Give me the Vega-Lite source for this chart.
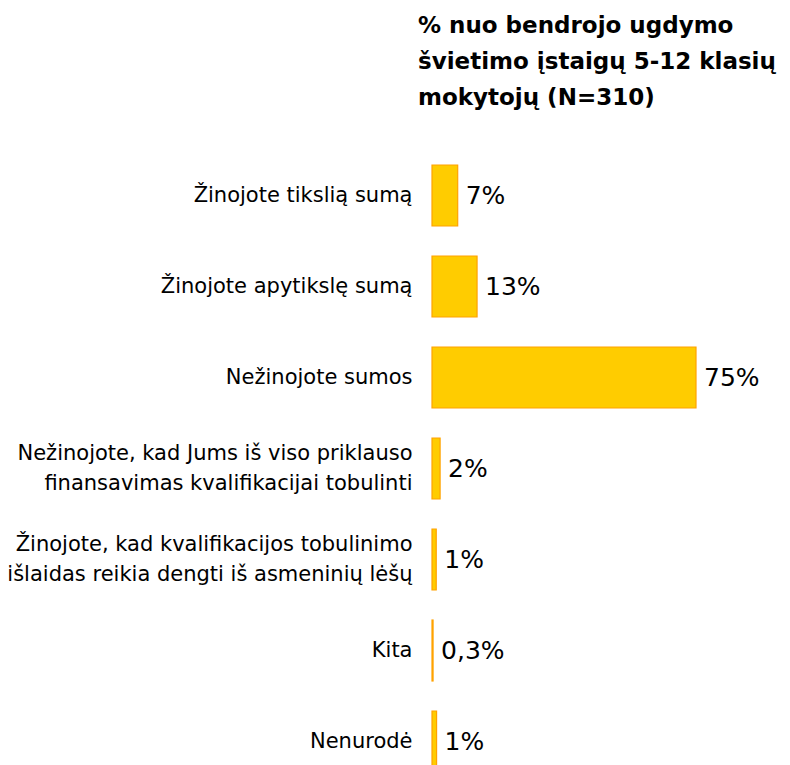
{
  "$schema": "https://vega.github.io/schema/vega-lite/v6.json",
  "autosize": {"type": "none"},
  "width": 352,
  "height": 637,
  "padding": {"left": 432, "top": 150, "right": 6, "bottom": 0},
  "background": "white",
  "config": {"view": {"stroke": null}, "font": "DejaVu Sans"},
  "title": {
    "text": ["% nuo bendrojo ugdymo", "švietimo įstaigų 5-12 klasių", "mokytojų (N=310)"],
    "anchor": "start",
    "frame": "group",
    "dx": -14,
    "offset": 40,
    "font": "DejaVu Sans",
    "fontSize": 23,
    "fontWeight": "bold",
    "color": "#000000",
    "lineHeight": 36
  },
  "data": {
    "values": [
      {"cat": "Žinojote tikslią sumą", "order": 1, "value": 7.3, "label": "7%"},
      {"cat": "Žinojote apytikslę sumą", "order": 2, "value": 12.8, "label": "13%"},
      {"cat": "Nežinojote sumos", "order": 3, "value": 75, "label": "75%"},
      {"cat": "Nežinojote, kad Jums iš viso priklauso|finansavimas kvalifikacijai tobulinti", "order": 4, "value": 2.3, "label": "2%"},
      {"cat": "Žinojote, kad kvalifikacijos tobulinimo|išlaidas reikia dengti iš asmeninių lėšų", "order": 5, "value": 1.2, "label": "1%"},
      {"cat": "Kita", "order": 6, "value": 0.3, "label": "0,3%"},
      {"cat": "Nenurodė", "order": 7, "value": 1.3, "label": "1%"}
    ]
  },
  "encoding": {
    "y": {
      "field": "cat",
      "type": "nominal",
      "sort": {"field": "order", "order": "ascending"},
      "scale": {"paddingInner": 0.33, "paddingOuter": 0.165},
      "axis": {
        "title": null,
        "domain": false,
        "ticks": false,
        "labelPadding": 20,
        "labelFont": "DejaVu Sans",
        "labelFontSize": 21,
        "labelColor": "#000000",
        "labelLineHeight": 30,
        "labelLimit": 500,
        "labelBaseline": "middle",
        "labelOffset": {"condition": {"test": "indexof(datum.value, '|') >= 0", "value": -15}, "value": 0},
        "labelExpr": "split(datum.value, '|')"
      }
    },
    "x": {
      "field": "value",
      "type": "quantitative",
      "scale": {"domain": [0, 100]},
      "axis": null
    }
  },
  "layer": [
    {
      "mark": {"type": "bar", "fill": "#FFCC00", "stroke": "#FFA200", "strokeWidth": 1.2, "fillOpacity": 1, "strokeOpacity": 1}
    },
    {
      "mark": {"type": "text", "align": "left", "dx": 8, "font": "DejaVu Sans", "fontSize": 25, "color": "#000000", "baseline": "middle"},
      "encoding": {"text": {"field": "label"}}
    }
  ]
}
